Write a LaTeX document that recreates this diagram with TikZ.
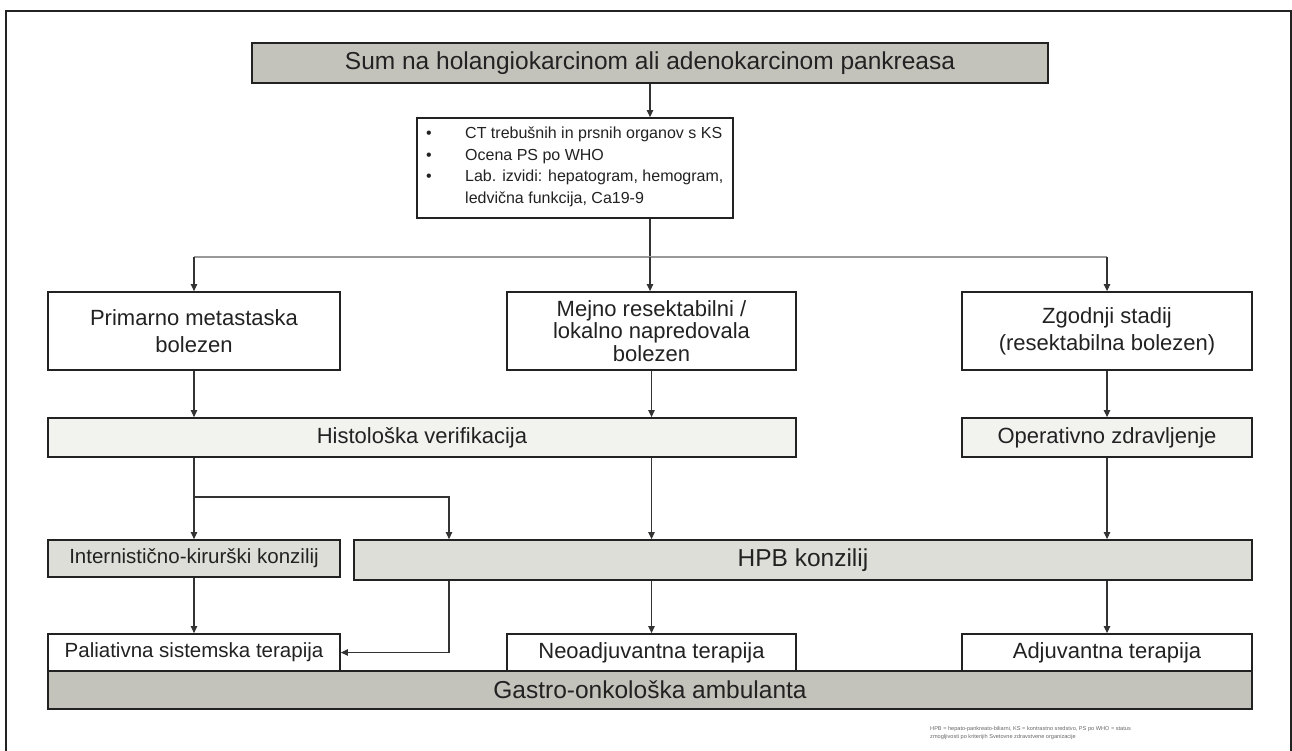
\documentclass[tikz,border=0pt]{standalone}
\usepackage{fontspec}
\setmainfont{Liberation Sans}
\usetikzlibrary{arrows.meta}
\definecolor{darkgray}{HTML}{C4C3BB}
\definecolor{midgray}{HTML}{DEDED8}
\definecolor{lightgray}{HTML}{F2F2EF}
\definecolor{ink}{HTML}{222222}
\definecolor{wire}{HTML}{333333}
\tikzset{
  box/.style={draw=ink, line width=1.8pt, inner sep=0pt, align=center, text=ink},
  conn/.style={draw=wire, line width=1.1pt},
  arr/.style={conn, -{Triangle[length=7pt,width=6.5pt]}},
  big/.style={font=\fontsize{24.5}{29}\selectfont},
  mid/.style={font=\fontsize{22}{26}\selectfont},
  sml/.style={font=\fontsize{20.5}{24}\selectfont},
}
\begin{document}
\begin{tikzpicture}[x=1pt,y=-1pt]
\useasboundingbox (0,0) rectangle (1292,751);
% frame
\draw[ink, line width=1.4pt] (6,752) -- (6,11) -- (1291,11) -- (1291,752);

\node[box, big, fill=darkgray, minimum width=796pt, minimum height=40pt] (top) at (650,63) {Sum na holangiokarcinom ali adenokarcinom pankreasa};

\node[box, fill=white, minimum width=316pt, minimum height=100pt] (exam) at (575,168) {};
\node[anchor=north west, text=ink, align=left, font=\fontsize{16}{21.5}\selectfont, inner sep=0pt] (examtxt) at (426,127) {%
\makebox[39pt][l]{•}CT trebušnih in prsnih organov s KS\\
\makebox[39pt][l]{•}Ocena PS po WHO\\
\makebox[39pt][l]{•}Lab. izvidi: hepatogram, hemogram,\\
\makebox[39pt][l]{}ledvična funkcija, Ca19-9};

\node[box, mid, fill=white, minimum width=292pt, minimum height=78pt] (A) at (194,331) {Primarno metastaska\\[1pt]bolezen};
\node[box, mid, fill=white, minimum width=289pt, minimum height=78pt, font=\fontsize{22}{22.5}\selectfont] (B) at (651.5,331) {Mejno resektabilni /\\lokalno napredovala\\bolezen};
\node[box, mid, fill=white, minimum width=290pt, minimum height=78pt] (C) at (1107,331) {Zgodnji stadij\\[1pt](resektabilna bolezen)};

\node[box, mid, fill=lightgray, minimum width=748pt, minimum height=39pt] (histo) at (422,437.5) {Histološka verifikacija};
\node[box, mid, fill=lightgray, minimum width=290pt, minimum height=39pt] (oper) at (1107,437.5) {Operativno zdravljenje};

\node[box, sml, fill=midgray, minimum width=292pt, minimum height=37pt] (inter) at (194,558.5) {Internistično-kirurški konzilij};
\node[box, big, fill=midgray, minimum width=898pt, minimum height=40pt] (hpb) at (803,560) {HPB konzilij};

\node[box, sml, fill=white, minimum width=292pt, minimum height=37pt] (pal) at (194,652.5) {Paliativna sistemska terapija};
\node[box, mid, fill=white, minimum width=289pt, minimum height=37pt] (neo) at (651.5,652.5) {Neoadjuvantna terapija};
\node[box, mid, fill=white, minimum width=290pt, minimum height=37pt] (adj) at (1107,652.5) {Adjuvantna terapija};

\node[box, big, fill=darkgray, minimum width=1204pt, minimum height=38pt] (gastro) at (650,690) {Gastro-onkološka ambulanta};

\node[anchor=north west, inner sep=0pt, align=left, text=black!60, font=\fontsize{5.6}{8.5}\selectfont] (note) at (930,726) {HPB = hepato-pankreato-biliarni, KS = kontrastno sredstvo, PS po WHO = status\\zmogljivosti po kriterijih Svetovne zdravstvene organizacije};

% connectors
\coordinate (split) at (650,257);
\coordinate (splitL) at (194,257);
\coordinate (splitR) at (1107,257);
\draw[arr] (top.south) -- (top.south |- exam.north);
\draw[conn] (exam.south -| split) -- (split);
\draw[draw=black!40, line width=1.3pt] (splitL) -- (splitR);
\draw[arr] (splitL) -- (A.north);
\draw[arr] (split) -- (split |- B.north);
\draw[arr] (splitR) -- (C.north);

\draw[arr] (A.south) -- (A.south |- histo.north);
\draw[arr] (B.south) -- (B.south |- histo.north);
\draw[arr] (C.south) -- (oper.north);

\coordinate (br) at (194,497);
\coordinate (brR) at (449,497);
\draw[arr] (A.south |- histo.south) -- (inter.north);
\draw[arr] (br) -- (brR) -- (brR |- hpb.north);
\draw[arr] (B.south |- histo.south) -- (B.south |- hpb.north);
\draw[arr] (oper.south) -- (oper.south |- hpb.north);

\draw[arr] (inter.south) -- (pal.north);
\draw[arr] (brR |- hpb.south) -- (brR |- pal.east) -- (pal.east);
\draw[arr] (neo.north |- hpb.south) -- (neo.north);
\draw[arr] (adj.north |- hpb.south) -- (adj.north);
\end{tikzpicture}
\end{document}
